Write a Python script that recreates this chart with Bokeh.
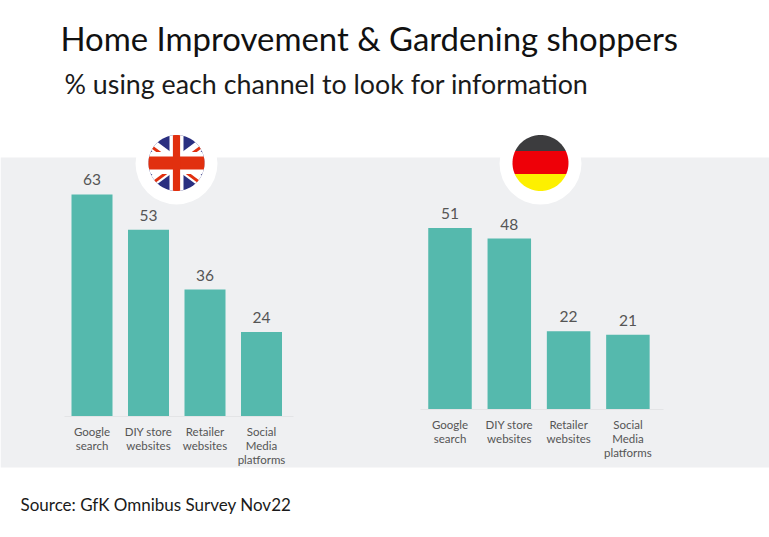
import numpy as np
from bokeh.plotting import figure
from bokeh.models import Range1d, ColumnDataSource
from bokeh.core.properties import value
from bokeh.embed import file_html
from bokeh.resources import INLINE

# ---- data
categories = ["Google\nsearch", "DIY store\nwebsites", "Retailer\nwebsites", "Social\nMedia\nplatforms"]
uk_values = [63, 53, 36, 24]
de_values = [51, 48, 22, 21]
title = "Home Improvement & Gardening shoppers"
subtitle = "% using each channel to look for information"
source_note = "Source: GfK Omnibus Survey Nov22"

# ---- layout (page pixels)
L, R, T, B = 0, 769, 0, 537
BAR = "#55b9ad"
BAND = "#eff0f2"
INK = "#555555"
FONT = value("Lato")

p = figure(width=R - L, height=B - T, x_range=Range1d(L, R), y_range=Range1d(B, T),
           x_axis_location=None, y_axis_location=None, toolbar_location=None,
           output_backend="svg", min_border=0, outline_line_color=None,
           background_fill_color="white", border_fill_color="white")
p.grid.visible = False


def box(x0, x1, y0, y1, color):
    p.quad(left=[x0], right=[x1], top=[y0], bottom=[y1], fill_color=color, line_color=None)


def clip_convex(poly, hull):
    """Sutherland-Hodgman clip of poly to a convex hull (counter-clockwise in its own frame)."""
    out = list(poly)
    n = len(hull)
    for i in range(n):
        a, b = hull[i], hull[(i + 1) % n]
        def inside(q):
            return (b[0] - a[0]) * (q[1] - a[1]) - (b[1] - a[1]) * (q[0] - a[0]) >= 0
        src, out = out, []
        for j in range(len(src)):
            c, d = src[j], src[(j + 1) % len(src)]
            ci, di = inside(c), inside(d)
            if ci != di:
                t1 = (b[0] - a[0]) * (c[1] - a[1]) - (b[1] - a[1]) * (c[0] - a[0])
                t2 = (b[0] - a[0]) * (d[1] - a[1]) - (b[1] - a[1]) * (d[0] - a[0])
                t = t1 / (t1 - t2)
                e = (c[0] + t * (d[0] - c[0]), c[1] + t * (d[1] - c[1]))
            if ci:
                out.append(c)
            if ci != di:
                out.append(e)
        if not out:
            break
    return out


def flag_shapes(cx, cy, r, shapes):
    th = np.linspace(0, 2 * np.pi, 96, endpoint=False)
    hull = [(r * np.cos(t), r * np.sin(t)) for t in th]
    for poly, color in shapes:
        c = clip_convex(poly, hull)
        if c:
            p.patch([cx + q[0] for q in c], [cy + q[1] for q in c], fill_color=color, line_color=None)


def rect(x0, x1, y0, y1):
    return [(x0, y0), (x1, y0), (x1, y1), (x0, y1)]


def band(dx, dy, half, shift=0.0):
    n = np.hypot(dx, dy)
    ux, uy = dx / n, dy / n
    nx, ny = -uy, ux
    ox, oy = nx * shift, ny * shift
    ln = 60
    return [(ox - ux * ln + nx * half, oy - uy * ln + ny * half),
            (ox + ux * ln + nx * half, oy + uy * ln + ny * half),
            (ox + ux * ln - nx * half, oy + uy * ln - ny * half),
            (ox - ux * ln - nx * half, oy - uy * ln - ny * half)]


def panel(name, vals, c0, step, base, ppu, width, lab_y, line):
    p.extra_x_ranges[name] = Range1d((L - c0) / step, (R - c0) / step)
    p.extra_y_ranges[name] = Range1d((base - B) / ppu, (base - T) / ppu)
    idx = list(range(len(vals)))
    src = ColumnDataSource(dict(x=idx, v=vals, lab=[str(v) for v in vals], cat=categories))
    p.vbar(x="x", top="v", bottom=0, width=width / step, source=src, x_range_name=name, y_range_name=name,
           fill_color=BAR, line_color=None)
    p.text(x="x", y="v", text="lab", source=src, x_range_name=name, y_range_name=name,
           text_font=FONT, text_font_size="15.5px", text_color=INK, text_align="center",
           text_baseline="bottom", y_offset=-9)
    p.text(x="x", y=0, text="cat", source=src, x_range_name=name, y_range_name=name,
           text_font=FONT, text_font_size="11.5px", text_color=INK, text_align="center",
           text_baseline="top", y_offset=lab_y, text_line_height=1.08)
    p.line(x=line, y=[base, base], line_color="#e3e4e6", line_width=1)


box(L, R, 157, 467, BAND)

# white discs and flags
p.circle(x=[176, 540], y=[163, 163], radius=41, fill_color="white", line_color=None)

BLUE, RED, WHITE = "#2a2f80", "#e1300f", "#ffffff"
K = 0.74
flag_shapes(176, 162.5, 28, [
    (rect(-30, 30, -30, 30), BLUE),
    (band(1, K, 5.5), WHITE),
    (band(1, -K, 5.5), WHITE),
    (band(1, K, 1.5, 1.8), RED),
    (band(1, -K, 1.5, 1.8), RED),
    (rect(-30, 30, -11, 11), WHITE),
    (rect(-7, 7, -30, 30), WHITE),
    (rect(-30, 30, -6.5, 6.5), RED),
    (rect(-3.6, 3.6, -30, 30), RED),
])
flag_shapes(540, 162.5, 28, [
    (rect(-30, 30, -30, -12), "#3c3c3e"),
    (rect(-30, 30, -12, 11), "#ee0008"),
    (rect(-30, 30, 11, 30), "#fdf000"),
])

panel("uk", uk_values, 91.5, 56.5, 416, 3.525, 41, 8, [64, 293])
panel("de", de_values, 449.5, 59.3, 409, 3.56, 43.5, 8, [420, 663])

for txt, x, y, size, col in [(title, 60, 57, "32.9px", "#111111"),
                             (subtitle, 64, 99, "26.8px", "#1a1a1a"),
                             (source_note, 20, 514, "17px", "#1a1a1a")]:
    p.text(x=[x], y=[y], text=[txt], text_font=FONT, text_font_size=size, text_color=col,
           text_align="left", text_baseline="bottom")

open("out.html", "w").write(file_html(p, INLINE))
